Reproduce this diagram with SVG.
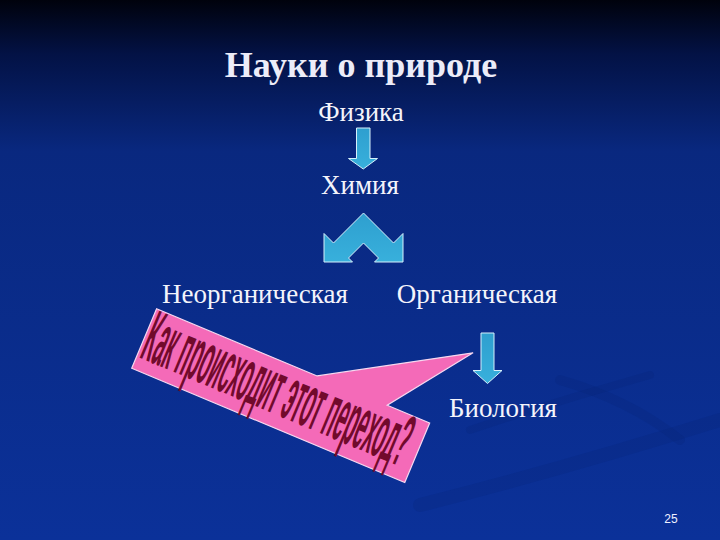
<svg xmlns="http://www.w3.org/2000/svg" width="720" height="540" viewBox="0 0 720 540">
  <defs>
    <linearGradient id="bg" x1="0" y1="0" x2="0" y2="1">
      <stop offset="0" stop-color="#00020c"/>
      <stop offset="0.1" stop-color="#031245"/>
      <stop offset="0.28" stop-color="#09287f"/>
      <stop offset="1" stop-color="#0b3199"/>
    </linearGradient>
    <linearGradient id="arrowFill" x1="0" y1="0" x2="0" y2="1">
      <stop offset="0" stop-color="#2e9fcf"/>
      <stop offset="1" stop-color="#38b0dc"/>
    </linearGradient>
  </defs>
  <style>
    .lbl { font-family: "Liberation Serif", "Times New Roman", serif; fill: #f4f4fb; text-anchor: middle; font-size: 27px; }
    .title { font-family: "Liberation Serif", "Times New Roman", serif; font-weight: bold; font-size: 36px; fill: #ececf8; text-anchor: middle; }
    .arrow { fill: url(#arrowFill); stroke: #d6f0fb; stroke-width: 1; stroke-linejoin: miter; }
    .callout { fill: #f46ab8; stroke: #f6d8f0; stroke-width: 1.2; }
    .qtext { font-family: "Liberation Sans", Arial, sans-serif; font-weight: bold; font-size: 66px; fill: #720a2c; }
    .stripe { fill: none; stroke: #062270; stroke-opacity: 0.18; stroke-linecap: round; }
  </style>

  <rect x="0" y="0" width="720" height="540" fill="url(#bg)"/>
  <path class="stripe" stroke-width="14" d="M420 505 Q560 470 720 420"/>
  <path class="stripe" stroke-width="10" d="M560 380 Q630 400 680 440"/>
  <path class="stripe" stroke-width="8" d="M470 430 Q560 400 650 375"/>

  <text class="title" x="361" y="77">Науки о природе</text>

  <g id="fizika"><text class="lbl" x="361" y="121">Физика</text></g>
  <g id="himiya"><text class="lbl" x="360" y="194">Химия</text></g>
  <g id="neorg"><text class="lbl" x="255" y="303">Неорганическая</text></g>
  <g id="org"><text class="lbl" x="477" y="303">Органическая</text></g>
  <g id="biologiya"><text class="lbl" x="503" y="417">Биология</text></g>

  <g id="connectors">
    <path class="arrow" d="M356.5 128 L370 128 L370 158.5 L377.5 158.5 L363.25 169 L348.5 158.5 L356.5 158.5 Z"/>
    <path class="arrow" d="M363.5 213 L393.5 243 L403 233.5 L403 262 L374.5 262 L378.5 258 L363.5 243 L348.5 258 L352.5 262 L324 262 L324 233.5 L333.5 243 Z"/>
    <path class="arrow" d="M481 333 L494 333 L494 370.5 L502 370.5 L487.5 383.5 L473 370.5 L481 370.5 Z"/>
  </g>

  <g id="question" transform="translate(131.7 368.3) rotate(22.7)">
    <path class="callout" d="M0 0 L0 -64.5 L174 -64.5 L309 -146 L250 -64.5 L296 -64.5 L296 0 Z"/>
    <text class="qtext" x="2" y="-11.5" transform="scale(1 1.12)" textLength="283" lengthAdjust="spacingAndGlyphs">Как происходит этот переход?</text>
  </g>

  <g id="page"><text x="671" y="523" font-family="Liberation Sans, Arial, sans-serif" font-size="12" fill="#f0f0ff" text-anchor="middle">25</text></g>
</svg>
